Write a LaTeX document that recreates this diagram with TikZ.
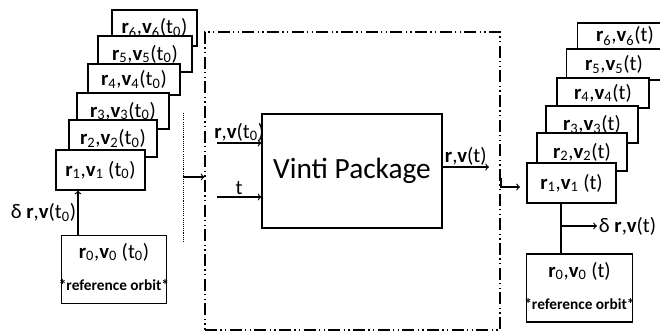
\documentclass[tikz,border=0pt]{standalone}
\usepackage{fontspec}
\setmainfont{Carlito}
\usetikzlibrary{positioning,calc,arrows}
\newcommand{\rvec}[2]{\textbf{r}\textsubscript{#1},\textbf{v}\textsubscript{#1}#2}

\begin{document}
\begin{tikzpicture}[x=0.75pt,y=-0.75pt,
  state/.style={draw,fill=white,line width=0.9pt,font=\fontsize{15.5}{18}\selectfont,inner sep=0pt},
  refbox/.style={draw,line width=0.9pt,minimum width=79pt,minimum height=51pt},
  note/.style={font=\fontsize{11.5}{13}\selectfont\bfseries,inner sep=0pt},
  frame/.style={draw,line width=0.8pt,dash pattern=on 9pt off 2.5pt on 1pt off 2.5pt on 1pt off 2.5pt},
  flow/.style={->,line width=0.9pt},
  lbl/.style={font=\fontsize{15.5}{18}\selectfont,inner sep=1pt}]
\useasboundingbox (0,0) rectangle (660,331);

\foreach \i/\x/\y/\w/\h/\s in {6/154.5/28/85/36/, 5/145/54/94/36/, 4/134/79.5/92/31/, 3/123/111/92/36/, 2/113/138.5/88/37/, 1/100.5/170/89/40/\ }
  \node[state,minimum width=\w*0.75pt,minimum height=\h*0.75pt] (L\i) at (\x,\y) {\rvec{\i}{\s(t\textsubscript{0})}};
\foreach \i/\x/\y/\w/\h/\s in {6/625/36/95/26/, 5/614/64.5/95/31/, 4/603/93/92/30/, 3/592/124.5/92/37/, 2/582/152/90/38/, 1/571.5/183/89/40/\ }
  \node[state,minimum width=\w*0.75pt,minimum height=\h*0.75pt] (R\i) at (\x,\y) {\rvec{\i}{\s(t)}};

\node[refbox] (L0) at (114,269.5) {};
\node[lbl] (L0top) at (114,252) {\rvec{0}{ (t\textsubscript{0})}};
\node[note] (L0note) at (114,285) {*reference orbit*};
\node[refbox] (R0) at (579.5,288) {};
\node[lbl] (R0top) at (579.5,271) {\rvec{0}{ (t)}};
\node[note] (R0note) at (579.5,304) {*reference orbit*};

\draw[flow] ([xshift=-27pt]L0.north) -- ([xshift=-27pt]L0.north |- L1.south)
  node[lbl,midway,left] (dleft) {δ \textbf{r},\textbf{v}(t\textsubscript{0})};

\node[frame,minimum width=221.25pt,minimum height=223.5pt] (frame) at (352.5,181) {};
\node[draw,line width=0.9pt,minimum width=135pt,minimum height=85.5pt,font=\fontsize{22}{26}\selectfont] (vinti) at (352,171) {Vinti Package};

\coordinate (dtop) at (183,113);
\coordinate (dbot) at (183,242);
\draw[line width=0.6pt,dash pattern=on 0.8pt off 0.8pt] (dtop) -- (dbot);
\coordinate (feed) at (183,177);
\draw[flow] (feed) -- (feed -| frame.west);

\coordinate (in1) at (217,143);
\coordinate (in2) at (217,197);
\draw[flow] (in1) -- (in1 -| vinti.west) node[lbl,midway,above] (in1lbl) {\textbf{r},\textbf{v}(t\textsubscript{0})};
\draw[flow] (in2) -- (in2 -| vinti.west) node[lbl,midway,above] (in2lbl) {t};

\coordinate (out) at (489,167);
\draw[flow] (out -| vinti.east) -- (out) node[lbl,midway,above] (outlbl) {\textbf{r},\textbf{v}(t)};

\coordinate (exit) at (501,178);
\coordinate (R1in) at (520,187);
\draw[flow] (exit) |- (R1in);

\coordinate (branch) at (561,226);
\coordinate (dend) at (597,226);
\draw[line width=0.9pt] (branch |- R1.south) -- (branch |- R0.north);
\draw[flow] (branch) -- (dend) node[lbl,right] (dright) {δ \textbf{r},\textbf{v}(t)};
\end{tikzpicture}
\end{document}
